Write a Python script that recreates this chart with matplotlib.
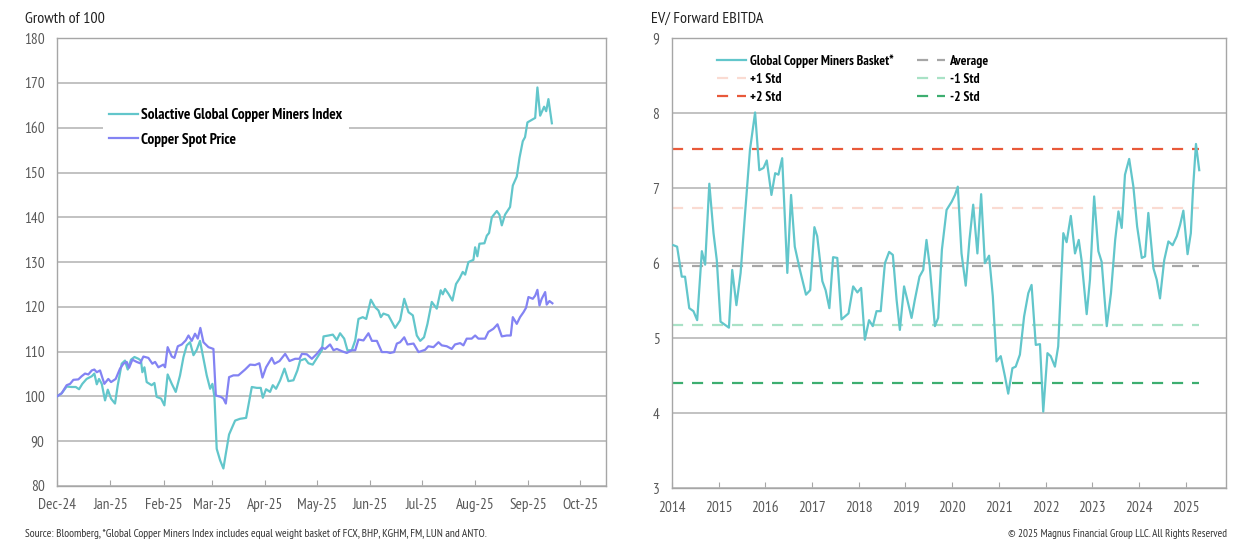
import matplotlib
matplotlib.use('Agg')
import matplotlib.pyplot as plt
import matplotlib.dates as mdates
import pandas as pd

plt.rcParams['font.family'] = ['PT Sans Narrow', 'Archivo Narrow', 'DejaVu Sans']

# ---- left chart: growth of 100 (days since 2024-12-01) ----
miners_days = [0, 2.7, 5.6, 8.5, 10.9, 12.8, 14.7, 17.2, 20.2, 21.7, 23.1, 24.4, 26.0, 27.9, 29.5, 31.4,
               33.7, 35.3, 37.6, 39.5, 41.1, 43.0, 45.0, 47.3, 48.8, 49.6, 50.8, 52.1, 55.0, 56.6, 57.9,
               60.5, 62.4, 64.3, 66.7, 69.0, 71.5, 73.5, 75.4, 77.3, 79.3, 81.2, 83.1, 85.1, 87.0, 89.0,
               90.3, 91.5, 92.8, 94.8, 96.7, 98.1, 100.0, 103.5, 106.4, 109.9, 113.2, 116.1, 118.4, 119.6,
               121.5, 123.8, 125.4, 127.3, 129.7, 132.2, 134.5, 137.4, 139.7, 141.3, 144.2, 146.1, 148.6,
               151.4, 153.9, 154.9, 157.8, 160.3, 162.6, 164.5, 166.9, 168.8, 171.3, 173.3, 175.2, 177.7,
               179.7, 182.4, 184.9, 186.8, 188.2, 189.7, 192.6, 196.5, 199.4, 201.8, 204.3, 206.8, 209.1,
               211.1, 213.3, 215.3, 217.8, 220.7, 223.0, 224.2, 225.5, 227.5, 229.8, 231.9, 233.9, 235.8,
               237.2, 239.1, 242.0, 243.0, 244.3, 245.5, 248.4, 249.8, 251.1, 252.7, 255.6, 257.1, 258.5,
               260.4, 263.3, 264.9, 267.2, 268.8, 270.7, 272.0, 273.4, 277.9, 279.2, 280.8, 283.1, 284.3,
               285.6, 287.6]
miners_vals = [100.0, 100.7, 102.2, 102.1, 102.1, 101.6, 102.8, 103.9, 104.5, 105.1, 102.7, 103.9, 102.8,
               99.1, 101.5, 99.5, 98.4, 102.5, 107.3, 108.0, 106.0, 108.2, 108.8, 108.4, 108.0, 105.4,
               106.5, 103.2, 102.5, 103.0, 99.9, 99.5, 98.0, 104.9, 102.8, 101.0, 104.7, 108.8, 111.4,
               112.1, 109.2, 110.4, 112.4, 108.4, 104.7, 101.7, 102.8, 99.9, 88.3, 85.7, 83.9, 87.2, 91.5,
               94.6, 95.0, 95.2, 102.1, 101.9, 101.9, 99.7, 101.6, 101.0, 102.5, 101.7, 103.6, 106.2,
               103.4, 103.6, 105.8, 108.0, 108.4, 107.4, 107.1, 108.8, 110.3, 113.4, 113.6, 113.8, 112.6,
               114.1, 112.9, 110.3, 110.3, 112.5, 117.3, 117.7, 117.3, 121.6, 119.9, 119.2, 117.7, 118.5,
               118.1, 115.3, 117.0, 121.8, 118.8, 118.1, 113.6, 112.4, 113.2, 116.2, 121.1, 119.6, 123.7,
               122.8, 124.0, 122.9, 121.4, 125.1, 126.3, 127.8, 127.2, 130.0, 130.5, 133.3, 131.3, 134.1,
               134.2, 135.9, 136.5, 140.0, 141.4, 140.6, 138.2, 140.6, 142.3, 147.1, 149.1, 153.3, 157.0,
               157.9, 161.2, 162.2, 169.0, 162.7, 164.7, 163.7, 166.4, 161.0]

copper_days = [0, 2.7, 5.6, 7.6, 9.5, 12.4, 14.3, 16.3, 18.2, 20.2, 21.7, 23.1, 25.0, 27.5, 29.8, 31.4,
               34.1, 36.6, 38.6, 40.5, 41.9, 43.8, 46.3, 48.3, 50.2, 53.1, 55.4, 57.0, 58.9, 61.8, 62.8,
               64.3, 66.7, 68.2, 70.2, 72.5, 74.8, 76.4, 78.3, 80.2, 81.8, 83.3, 85.1, 88.0, 90.9, 92.3,
               95.2, 96.7, 98.1, 100.0, 102.5, 105.4, 109.3, 112.2, 115.1, 117.6, 119.4, 121.5, 124.8,
               126.4, 129.3, 132.6, 135.1, 138.4, 140.9, 142.3, 145.2, 148.1, 151.0, 153.9, 155.8, 158.7,
               160.7, 162.6, 165.5, 168.4, 171.3, 173.3, 175.2, 178.1, 181.0, 183.0, 185.9, 188.8, 191.7,
               193.6, 195.9, 197.5, 199.4, 201.8, 203.7, 207.2, 210.1, 213.9, 215.8, 218.8, 221.7, 223.6,
               226.5, 229.4, 231.3, 234.3, 236.2, 238.1, 241.0, 243.0, 244.9, 248.8, 250.7, 253.6, 256.0,
               258.5, 261.4, 263.7, 264.9, 267.2, 269.1, 271.1, 272.6, 274.0, 276.5, 277.9, 279.2, 280.4,
               281.7, 283.7, 284.6, 286.2, 287.9]
copper_vals = [100.0, 100.7, 102.5, 102.8, 103.7, 103.8, 104.5, 105.1, 104.9, 105.8, 106.0, 105.4, 105.8,
               102.8, 103.9, 103.2, 103.9, 106.2, 107.3, 107.7, 106.4, 108.2, 107.7, 107.4, 108.9, 108.6,
               107.3, 107.7, 106.5, 107.1, 106.5, 111.0, 108.9, 108.6, 111.2, 111.6, 112.5, 113.6, 112.4,
               114.0, 112.9, 115.3, 112.1, 111.0, 110.6, 100.2, 99.9, 99.5, 98.4, 104.3, 104.7, 104.7,
               106.0, 107.1, 107.0, 107.4, 104.2, 106.5, 108.6, 107.3, 107.9, 109.5, 107.9, 108.4, 108.4,
               109.5, 109.4, 108.4, 109.5, 110.9, 110.6, 111.6, 110.3, 110.6, 110.1, 109.7, 110.3, 110.3,
               112.7, 112.5, 114.1, 112.4, 112.4, 109.9, 109.9, 109.7, 109.9, 111.8, 112.1, 113.2, 111.6,
               111.8, 109.9, 110.4, 111.2, 111.0, 112.1, 111.4, 111.2, 110.6, 111.6, 111.9, 111.4, 112.9,
               112.9, 113.6, 112.9, 112.9, 114.4, 115.1, 116.1, 113.4, 113.6, 113.6, 117.7, 116.2, 117.7,
               118.8, 119.8, 122.2, 121.8, 122.5, 123.8, 120.3, 121.8, 123.3, 120.5, 121.3, 120.8]

# ---- right chart: EV / forward EBITDA ----
ev_years = [2014.03, 2014.11, 2014.21, 2014.28, 2014.37, 2014.46, 2014.54, 2014.64, 2014.71, 2014.80,
            2014.89, 2014.96, 2015.04, 2015.13, 2015.22, 2015.29, 2015.38, 2015.47, 2015.56, 2015.67,
            2015.78, 2015.87, 2015.96, 2016.03, 2016.13, 2016.21, 2016.28, 2016.36, 2016.47, 2016.55,
            2016.63, 2016.74, 2016.87, 2016.96, 2017.05, 2017.11, 2017.22, 2017.29, 2017.37, 2017.45,
            2017.54, 2017.63, 2017.78, 2017.88, 2017.97, 2018.05, 2018.13, 2018.22, 2018.30, 2018.38,
            2018.47, 2018.56, 2018.65, 2018.73, 2018.81, 2018.88, 2018.97, 2019.04, 2019.13, 2019.20,
            2019.30, 2019.38, 2019.45, 2019.52, 2019.63, 2019.70, 2019.78, 2019.88, 2019.99, 2020.06,
            2020.12, 2020.20, 2020.29, 2020.37, 2020.45, 2020.54, 2020.62, 2020.70, 2020.79, 2020.87,
            2020.95, 2021.04, 2021.13, 2021.20, 2021.29, 2021.36, 2021.45, 2021.54, 2021.63, 2021.70,
            2021.79, 2021.88, 2021.95, 2022.04, 2022.11, 2022.20, 2022.27, 2022.38, 2022.45, 2022.54,
            2022.63, 2022.71, 2022.77, 2022.88, 2022.95, 2023.04, 2023.13, 2023.20, 2023.31, 2023.40,
            2023.49, 2023.56, 2023.63, 2023.70, 2023.79, 2023.88, 2023.96, 2024.06, 2024.13, 2024.20,
            2024.31, 2024.38, 2024.45, 2024.54, 2024.63, 2024.72, 2024.81, 2024.88, 2024.95, 2025.04,
            2025.11, 2025.16, 2025.22, 2025.29]
ev_vals = [6.24, 6.22, 5.82, 5.82, 5.40, 5.36, 5.24, 6.16, 5.98, 7.06, 6.40, 6.04, 5.22, 5.18, 5.14, 5.91,
           5.44, 5.87, 6.62, 7.51, 8.01, 7.24, 7.27, 7.37, 6.91, 7.20, 7.18, 7.40, 5.87, 6.91, 6.22, 5.91,
           5.58, 5.64, 6.48, 6.36, 5.76, 5.64, 5.40, 6.08, 6.07, 5.25, 5.33, 5.69, 5.61, 5.67, 4.98, 5.24,
           5.16, 5.36, 5.36, 6.00, 6.15, 6.11, 5.51, 5.11, 5.69, 5.51, 5.27, 5.51, 5.82, 5.91, 6.31, 5.96,
           5.16, 5.27, 6.18, 6.71, 6.82, 6.91, 7.02, 6.13, 5.70, 6.31, 6.78, 6.13, 6.92, 6.00, 6.10, 5.56,
           4.69, 4.76, 4.49, 4.26, 4.60, 4.62, 4.78, 5.29, 5.60, 5.71, 4.91, 4.92, 4.02, 4.80, 4.76, 4.62,
           4.89, 6.40, 6.28, 6.63, 6.13, 6.31, 6.04, 5.32, 5.78, 6.89, 6.16, 6.02, 5.16, 5.60, 6.31, 6.69,
           6.47, 7.18, 7.39, 7.02, 6.49, 6.07, 6.09, 6.67, 5.93, 5.78, 5.53, 6.04, 6.29, 6.24, 6.36, 6.51,
           6.70, 6.12, 6.40, 7.02, 7.59, 7.24]
ev_avg = 5.96
ev_std = 0.78
band_names = ['Average', '+1 Std', '-1 Std', '+2 Std', '-2 Std']
band_mult = [0, 1, -1, 2, -2]
band_colors = ['#A6A6A6', '#FADBD2', '#A9E2C6', '#E8593A', '#3DAE70']
year_ticks = list(range(2014, 2026))

teal = '#62C6CB'
purple = '#8383F3'
grid_c = '#B8B8B8'
tick_c = '#595959'

fig = plt.figure(figsize=(12.56, 5.46), dpi=100)

# left
ax1 = fig.add_axes([0.0454, 0.110, 0.437, 0.820])
start = pd.Timestamp('2024-12-01')
m_dates = start + pd.to_timedelta(miners_days, unit='D')
c_dates = start + pd.to_timedelta(copper_days, unit='D')
ax1.plot(m_dates, miners_vals, color=teal, lw=1.6, label='Solactive Global Copper Miners Index', zorder=3)
ax1.plot(c_dates, copper_vals, color=purple, lw=1.6, label='Copper Spot Price', zorder=3)
ax1.set_ylim(80, 180)
ax1.set_yticks(range(80, 181, 10))
ax1.set_xlim(start, pd.Timestamp('2025-10-16'))
ax1.xaxis.set_major_locator(mdates.MonthLocator())
ax1.xaxis.set_major_formatter(mdates.DateFormatter('%b-%y'))
ax1.grid(axis='y', color=grid_c, lw=1.2)
ax1.set_axisbelow(True)
ax1.text(-0.058, 1.035, 'Growth of 100', transform=ax1.transAxes, fontsize=11.5, color='#222222')
ax1.legend(loc='upper left', bbox_to_anchor=(0.07, 0.875), frameon=True, fancybox=False,
           edgecolor='none', facecolor='white', framealpha=1, handlelength=1.9,
           handletextpad=0.2, labelspacing=0.7, borderpad=0.4,
           prop={'weight': 'bold', 'size': 11})

# right
ax2 = fig.add_axes([0.535, 0.106, 0.441, 0.824])
ax2.plot(ev_years, ev_vals, color=teal, lw=1.6, label='Global Copper Miners Basket*', zorder=3)
band_lines = {}
for name, k, c in zip(band_names, band_mult, band_colors):
    ln, = ax2.plot([2014.0, ev_years[-1]], [ev_avg + k * ev_std] * 2, color=c, lw=1.6,
                   dashes=(5, 4), label=name, zorder=2)
    band_lines[name] = ln
ax2.set_ylim(3, 9)
ax2.set_xlim(2014.0, 2025.86)
ax2.set_xticks(year_ticks)
ax2.set_xticklabels([str(y) for y in year_ticks])
ax2.grid(axis='y', color=grid_c, lw=1.2)
ax2.set_axisbelow(True)
ax2.text(-0.038, 1.035, 'EV/ Forward EBITDA', transform=ax2.transAxes, fontsize=11.5, color='#222222')
h_main = ax2.get_lines()[0]
order = [h_main, band_lines['+1 Std'], band_lines['+2 Std'],
         band_lines['Average'], band_lines['-1 Std'], band_lines['-2 Std']]
ax2.legend(handles=order, labels=[h.get_label() for h in order], ncol=2, loc='upper left',
           bbox_to_anchor=(0.06, 0.992), frameon=False, handlelength=2.1, handletextpad=0.3,
           labelspacing=0.38, columnspacing=1.7, prop={'weight': 'bold', 'size': 9.8})

for ax in (ax1, ax2):
    for s in ax.spines.values():
        s.set_color('#A6A6A6')
        s.set_linewidth(1.0)
    ax.tick_params(axis='y', length=0, labelsize=11, labelcolor=tick_c, pad=9)
    ax.tick_params(axis='x', direction='in', length=4, color='#A6A6A6', labelsize=11,
                   labelcolor=tick_c, pad=9)

fig.text(0.02, 0.016, 'Source: Bloomberg, *Global Copper Miners Index includes equal weight basket of '
         'FCX, BHP, KGHM, FM, LUN and ANTO.', fontsize=8.2, color='#333333')
fig.text(0.977, 0.016, '\u00a9 2025 Magnus Financial Group LLC. All Rights Reserved', fontsize=8,
         color='#333333', ha='right')

fig.savefig('out.png', dpi=100)
